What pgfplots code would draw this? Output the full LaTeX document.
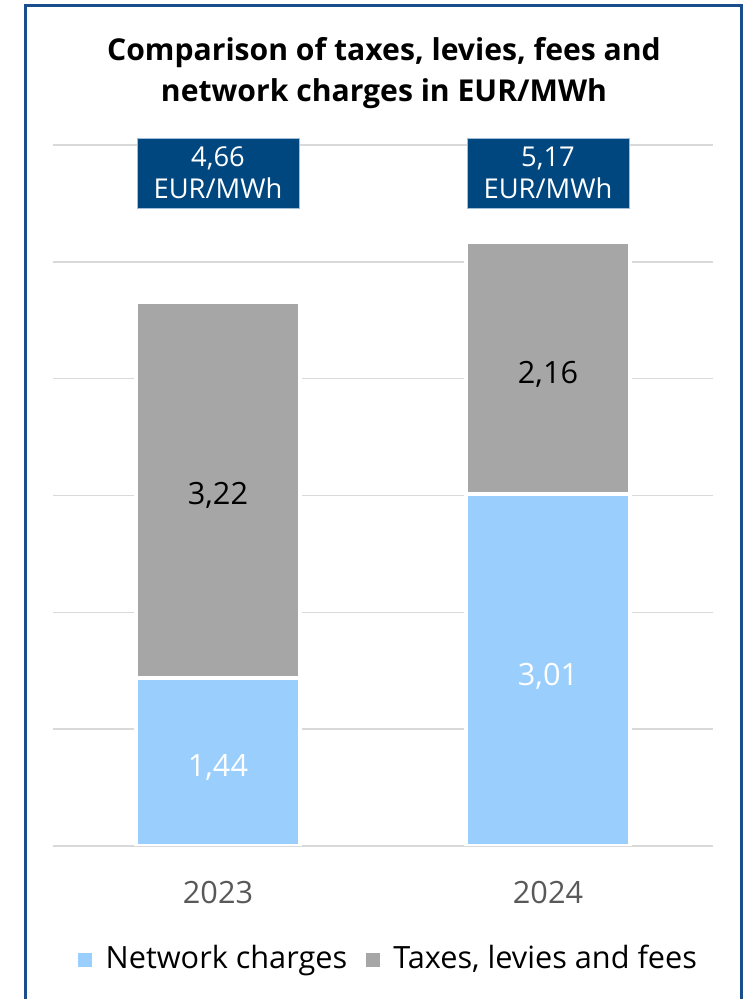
\documentclass[border=0pt]{standalone}
\usepackage{fontspec}
\setmainfont{Open Sans}
\usepackage{pgfplots}
\usepackage{pgfplotstable}
\pgfplotsset{compat=1.18}
\definecolor{netblue}{RGB}{153,206,253}
\definecolor{taxgray}{RGB}{166,166,166}
\definecolor{boxblue}{RGB}{0,71,128}
\definecolor{boxedge}{RGB}{160,190,220}
\definecolor{framecol}{RGB}{24,78,140}
\definecolor{gridcol}{RGB}{217,217,217}
\definecolor{ticktext}{RGB}{89,89,89}
\pgfplotstableread{
x net tax
0 1.44 3.22
1 3.01 2.16
}\datatable
% label positions: middle of each segment
\pgfplotstableread{
x y lab
0 0.72 {1,44}
1 1.505 {3,01}
}\netlabels
\pgfplotstableread{
x y lab
0 3.05 {3,22}
1 4.09 {2,16}
}\taxlabels
\pgfplotstableread{
x y lab
0 5.76 {4,66\\EUR/MWh}
1 5.76 {5,17\\EUR/MWh}
}\totaltable
\newcommand{\bigfont}{\fontsize{23}{27}\selectfont}
\begin{document}
\begin{tikzpicture}
\useasboundingbox (0,0) rectangle (559.5pt,749.25pt);
\draw[framecol, line width=2.25pt] (19.1pt,-5pt) -- (19.1pt,744.75pt) -- (556.1pt,744.75pt) -- (556.1pt,-5pt);
\node[anchor=base, font=\fontsize{22.6}{27}\selectfont\bfseries] at (288pt,703.5pt) {Comparison of taxes, levies, fees and};
\node[anchor=base, font=\fontsize{22.6}{27}\selectfont\bfseries] at (288pt,672.75pt) {network charges in EUR/MWh};
\begin{axis}[
  at={(39.75pt,114.75pt)}, anchor=south west,
  scale only axis, width=495pt, height=525.75pt,
  xmin=-0.5, xmax=1.5, ymin=0, ymax=6,
  ybar stacked, bar width=0.497,
  axis x line*=bottom, axis y line*=left,
  y axis line style={draw=none},
  x axis line style={gridcol, line width=1.1pt},
  ytick={1,2,3,4,5,6}, yticklabels={}, ymajorgrids,
  ytick style={draw=none},
  grid style={gridcol, line width=1.1pt},
  xtick={0,1}, xticklabels={2023,2024},
  xtick style={draw=none},
  extra x ticks={-0.5,0.5,1.5}, extra x tick labels={},
  extra x tick style={grid=none, tick align=outside, major tick length=8.25pt,
     tick style={draw=gridcol, line width=1.1pt}},
  xticklabel style={font=\bigfont, text=ticktext, anchor=center, yshift=-35.25pt},
  legend style={at={(0.509,-0.16)}, anchor=center, draw=none, fill=none,
     font=\bigfont, legend columns=2,
     /tikz/every even column/.append style={column sep=12pt}},
  legend cell align=left,
  legend image code/.code={\fill[#1, draw=none] (0pt,-6.5pt) rectangle (10.5pt,4pt);
     \path (17pt,0pt);},
]
\addplot[fill=netblue, draw=white, line width=3.2pt] table[x=x, y=net] {\datatable};
\addlegendentry{Network charges}
\addplot[fill=taxgray, draw=white, line width=3.2pt] table[x=x, y=tax] {\datatable};
\addlegendentry{Taxes, levies and fees}
\end{axis}
\begin{axis}[
  at={(39.75pt,114.75pt)}, anchor=south west,
  scale only axis, width=495pt, height=525.75pt,
  xmin=-0.5, xmax=1.5, ymin=0, ymax=6,
  hide axis, clip=false,
]
\addplot[draw=none, mark=none, nodes near coords, point meta=explicit symbolic,
  every node near coord/.style={anchor=center, text=white, font=\bigfont, yshift=-4.5pt}]
  table[x=x, y=y, meta=lab] {\netlabels};
\addplot[draw=none, mark=none, nodes near coords, point meta=explicit symbolic,
  every node near coord/.style={anchor=center, text=black, font=\bigfont, yshift=-4.5pt}]
  table[x=x, y=y, meta=lab] {\taxlabels};
\addplot[draw=none, mark=none, nodes near coords, point meta=explicit symbolic,
  every node near coord/.style={anchor=center, fill=boxblue, draw=boxedge, line width=0.6pt,
    text=white, minimum width=121.5pt, minimum height=52.5pt, inner sep=0pt,
    align=center, font=\fontsize{20.5}{24}\selectfont}]
  table[x=x, y=y, meta=lab] {\totaltable};
\end{axis}
\end{tikzpicture}
\end{document}
